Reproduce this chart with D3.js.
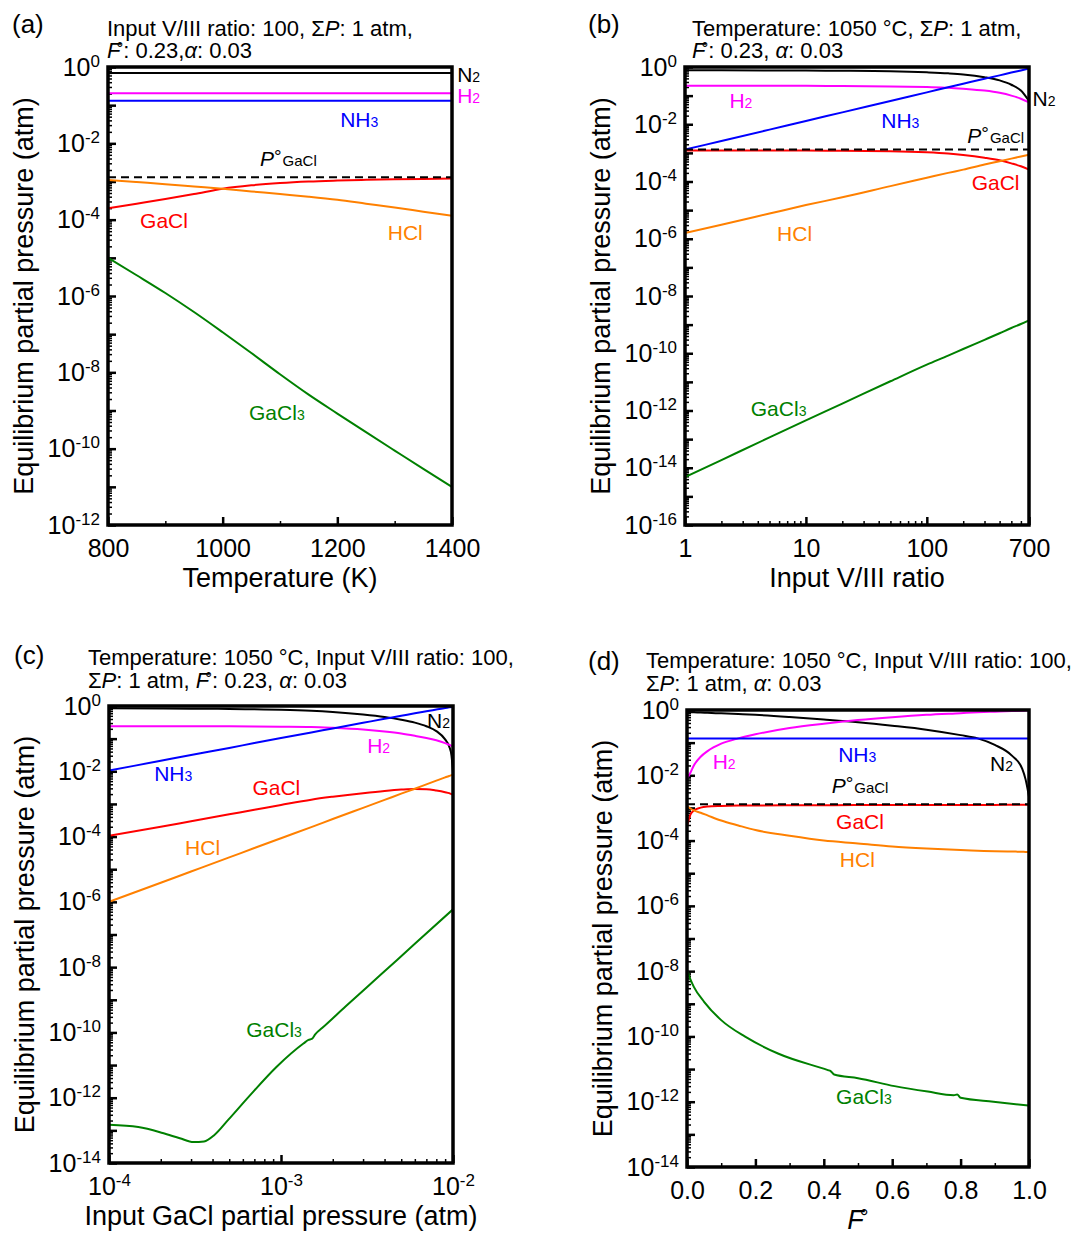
<!DOCTYPE html>
<html>
<head>
<meta charset="utf-8">
<script src="https://cdn.jsdelivr.net/npm/d3@7"></script>
<style>
  body { margin: 0; background: #fff; }
  svg { font-family: 'Liberation Sans', Arial, Helvetica, sans-serif; }
</style>
</head>
<body>
<svg id="fig" width="1083" height="1237"></svg>
<script>
// ---- (a) partial pressures vs temperature
const aTemp = [800, 850, 900, 950, 1000, 1050, 1100, 1150, 1200, 1250, 1300, 1350, 1400];
const aN2 = [0.70, 0.70, 0.70, 0.70, 0.70, 0.70, 0.70, 0.70, 0.70, 0.70, 0.70, 0.70, 0.70];
const aH2 = [0.205, 0.205, 0.205, 0.205, 0.205, 0.205, 0.205, 0.205, 0.205, 0.205, 0.205, 0.205, 0.205];
const aNH3 = [0.13, 0.13, 0.13, 0.13, 0.13, 0.13, 0.13, 0.13, 0.13, 0.13, 0.13, 0.13, 0.13];
const aPGaCl = [1.3e-3, 1.3e-3, 1.3e-3, 1.3e-3, 1.3e-3, 1.3e-3, 1.3e-3, 1.3e-3, 1.3e-3, 1.3e-3, 1.3e-3, 1.3e-3, 1.3e-3];
const aGaCl = [2.0e-4, 2.63e-4, 3.47e-4, 4.68e-4, 6.46e-4, 7.94e-4, 9.12e-4, 1.0e-3, 1.06e-3, 1.11e-3, 1.15e-3, 1.17e-3, 1.19e-3];
const aHCl = [1.10e-3, 9.66e-4, 8.51e-4, 7.41e-4, 6.46e-4, 5.50e-4, 4.68e-4, 3.98e-4, 3.31e-4, 2.63e-4, 2.09e-4, 1.62e-4, 1.26e-4];
const aGaCl3 = [1.0e-5, 3.5e-6, 1.2e-6, 3.8e-7, 1.12e-7, 3.2e-8, 8.9e-9, 2.6e-9, 8.3e-10, 2.7e-10, 8.9e-11, 2.95e-11, 1.0e-11];

// ---- (b) vs input V/III ratio
const bRatio = [1, 2, 5, 10, 20, 50, 100, 150, 200, 300, 400, 500, 600, 700];
const bN2 = [0.77, 0.77, 0.76, 0.75, 0.74, 0.71, 0.65, 0.60, 0.55, 0.44, 0.34, 0.24, 0.15, 0.065];
const bH2 = [0.22, 0.22, 0.22, 0.22, 0.215, 0.21, 0.20, 0.19, 0.175, 0.15, 0.125, 0.10, 0.078, 0.058];
const bNH3 = [1.3e-3, 2.6e-3, 6.5e-3, 1.3e-2, 2.6e-2, 6.5e-2, 0.13, 0.195, 0.26, 0.39, 0.51, 0.64, 0.76, 0.88];
const bPGaCl = [1.3e-3, 1.3e-3, 1.3e-3, 1.3e-3, 1.3e-3, 1.3e-3, 1.3e-3, 1.3e-3, 1.3e-3, 1.3e-3, 1.3e-3, 1.3e-3, 1.3e-3, 1.3e-3];
const bGaCl = [1.2e-3, 1.2e-3, 1.2e-3, 1.2e-3, 1.19e-3, 1.15e-3, 1.05e-3, 9.5e-4, 8.5e-4, 6.8e-4, 5.5e-4, 4.3e-4, 3.4e-4, 2.6e-4];
const bHCl = [1.6e-6, 3.1e-6, 7.6e-6, 1.5e-5, 2.8e-5, 6.9e-5, 1.35e-4, 2.0e-4, 2.6e-4, 3.9e-4, 5.1e-4, 6.3e-4, 7.5e-4, 8.7e-4];
const bGaCl3 = [4.7e-15, 1.86e-14, 1.15e-13, 4.5e-13, 1.74e-12, 1.05e-11, 4.0e-11, 8.3e-11, 1.41e-10, 2.95e-10, 5.0e-10, 7.6e-10, 1.05e-9, 1.41e-9];

// ---- (c) vs input GaCl partial pressure
const cPin = [1e-4, 2e-4, 3e-4, 5e-4, 7e-4, 1e-3, 1.5e-3, 2e-3, 3e-3, 4e-3, 5e-3, 6e-3, 7e-3, 8e-3, 9e-3, 9.5e-3, 9.8e-3, 1e-2];
const cN2 = [0.85, 0.84, 0.83, 0.81, 0.79, 0.77, 0.72, 0.66, 0.55, 0.46, 0.38, 0.31, 0.24, 0.17, 0.095, 0.058, 0.03, 0.009];
const cH2 = [0.24, 0.24, 0.24, 0.238, 0.236, 0.233, 0.228, 0.215, 0.19, 0.165, 0.143, 0.122, 0.105, 0.089, 0.073, 0.065, 0.06, 0.056];
const cNH3 = [0.0105, 0.021, 0.0315, 0.052, 0.073, 0.104, 0.155, 0.205, 0.305, 0.405, 0.50, 0.60, 0.69, 0.78, 0.87, 0.91, 0.935, 0.95];
const cGaCl = [1.05e-4, 2.0e-4, 2.95e-4, 4.8e-4, 6.6e-4, 9.3e-4, 1.35e-3, 1.66e-3, 2.14e-3, 2.5e-3, 2.75e-3, 2.88e-3, 2.82e-3, 2.57e-3, 2.29e-3, 2.14e-3, 2.0e-3, 1.9e-3];
const cHCl = [1.0e-6, 3.86e-6, 8.5e-6, 2.3e-5, 4.45e-5, 8.9e-5, 1.95e-4, 3.45e-4, 7.6e-4, 1.33e-3, 2.06e-3, 2.93e-3, 3.97e-3, 5.16e-3, 6.5e-3, 7.2e-3, 7.6e-3, 7.9e-3];
const cPin3 = [1e-4, 1.48e-4, 2.05e-4, 2.58e-4, 3.1e-4, 3.57e-4, 4.1e-4, 4.93e-4, 6.52e-4, 9.44e-4, 1.35e-3, 1.445e-3, 1.51e-3, 1.585e-3, 1.74e-3, 2.38e-3, 3.78e-3, 6.0e-3, 1e-2];
const cGaCl3 = [1.48e-13, 1.26e-13, 8.3e-14, 5.75e-14, 4.37e-14, 4.57e-14, 7.24e-14, 2.09e-13, 1.1e-12, 8.9e-12, 4.57e-11, 5.9e-11, 6.3e-11, 8.9e-11, 1.38e-10, 6.3e-10, 5.7e-9, 5.2e-8, 5.9e-7];

// ---- (d) vs F°
const dF = [0, 0.01, 0.02, 0.04, 0.06, 0.1, 0.15, 0.2, 0.3, 0.4, 0.5, 0.6, 0.7, 0.8, 0.85, 0.9, 0.95, 0.98, 0.99, 1.0];
const dN2 = [0.87, 0.86, 0.85, 0.84, 0.82, 0.79, 0.75, 0.71, 0.61, 0.51, 0.42, 0.33, 0.25, 0.17, 0.135, 0.085, 0.04, 0.016, 0.0075, 0.0022];
const dH2 = [0.008, 0.012, 0.02, 0.037, 0.055, 0.093, 0.135, 0.18, 0.28, 0.38, 0.49, 0.60, 0.71, 0.80, 0.85, 0.89, 0.93, 0.95, 0.96, 0.97];
const dNH3 = [0.135, 0.135, 0.135, 0.135, 0.135, 0.135, 0.135, 0.135, 0.135, 0.135, 0.135, 0.135, 0.135, 0.135, 0.135, 0.135, 0.135, 0.135, 0.135, 0.135];
const dPGaCl = [1.3e-3, 1.3e-3, 1.3e-3, 1.3e-3, 1.3e-3, 1.3e-3, 1.3e-3, 1.3e-3, 1.3e-3, 1.3e-3, 1.3e-3, 1.3e-3, 1.3e-3, 1.3e-3, 1.3e-3, 1.3e-3, 1.3e-3, 1.3e-3, 1.3e-3, 1.3e-3];
const dGaCl = [2.8e-4, 6.2e-4, 8.3e-4, 1.02e-3, 1.1e-3, 1.15e-3, 1.18e-3, 1.19e-3, 1.2e-3, 1.21e-3, 1.22e-3, 1.22e-3, 1.23e-3, 1.23e-3, 1.24e-3, 1.24e-3, 1.25e-3, 1.25e-3, 1.25e-3, 1.25e-3];
const dHCl = [1.15e-3, 9.6e-4, 8.4e-4, 7.1e-4, 5.9e-4, 4.1e-4, 2.9e-4, 2.1e-4, 1.4e-4, 1.0e-4, 8.2e-5, 6.6e-5, 5.7e-5, 5.1e-5, 4.9e-5, 4.7e-5, 4.6e-5, 4.55e-5, 4.5e-5, 4.5e-5];
const dF3 = [0, 0.01, 0.02, 0.05, 0.10, 0.17, 0.266, 0.412, 0.42, 0.43, 0.50, 0.607, 0.704, 0.78, 0.79, 0.80, 0.896, 1.0];
const dGaCl3 = [1.07e-8, 5.6e-9, 3.3e-9, 1.15e-9, 3.16e-10, 9.8e-11, 3.0e-11, 9.3e-12, 8.7e-12, 6.8e-12, 5.25e-12, 3.0e-12, 2.04e-12, 1.58e-12, 1.66e-12, 1.32e-12, 1.0e-12, 7.6e-13];

// species label anchors, in data units [species, x, y]
const aLabels = [['N2', 1409, 0.40], ['H2', 1409, 0.114], ['NH3', 1205, 0.0274], ['P', 1065, 2.6e-3], ['GaCl', 856, 5.9e-5], ['HCl', 1288, 2.95e-5], ['GaCl3', 1046, 5.6e-10]];
const bLabels = [['H2', 2.33, 0.037], ['NH3', 42, 7.2e-3], ['P', 216, 2.24e-3], ['N2', 749, 0.0447], ['GaCl', 235, 5.1e-5], ['HCl', 5.78, 8.1e-7], ['GaCl3', 3.5, 6.3e-13]];
const cLabels = [['N2', 7.06e-3, 0.215], ['H2', 3.17e-3, 0.0366], ['NH3', 1.83e-4, 4.9e-3], ['GaCl', 6.82e-4, 1.9e-3], ['HCl', 2.77e-4, 2.75e-5], ['GaCl3', 6.28e-4, 7.1e-11]];
const dLabels = [['H2', 0.075, 0.0151], ['NH3', 0.442, 0.0263], ['N2', 0.886, 0.0135], ['P', 0.423, 2.8e-3], ['GaCl', 0.436, 2.34e-4], ['HCl', 0.447, 1.58e-5], ['GaCl3', 0.436, 8.5e-13]];

// tick values
const aTicks = [800, 1000, 1200, 1400], aMinor = [900, 1100, 1300];
const bTicks = [1, 10, 100, 700], bMinor = [2, 3, 4, 5, 6, 7, 8, 9, 20, 30, 40, 50, 60, 70, 80, 90, 200, 300, 400, 500, 600];
const cTicks = [1e-4, 1e-3, 1e-2], cMinor = [2e-4, 3e-4, 4e-4, 5e-4, 6e-4, 7e-4, 8e-4, 9e-4, 2e-3, 3e-3, 4e-3, 5e-3, 6e-3, 7e-3, 8e-3, 9e-3];
const dTicks = [0, 0.2, 0.4, 0.6, 0.8, 1.0], dMinor = [0.1, 0.3, 0.5, 0.7, 0.9];

const FONT = "'Liberation Sans', Arial, Helvetica, sans-serif";
const color = { N2: '#000000', H2: '#ff00ff', NH3: '#0000ff', GaCl: '#ff0000', HCl: '#ff8000', GaCl3: '#008000', P: '#000000' };

// title pieces: [text, style]  style: i = italic, deg = raised degree
const ratioLine = [['Input V/III ratio: 100, Σ'], ['P', 'i'], [': 1 atm,']];
const tempLine = [['Temperature: 1050 °C, Σ'], ['P', 'i'], [': 1 atm,']];
const tempRatioLine = [['Temperature: 1050 °C, Input V/III ratio: 100,']];

const panels = [
  {
    id: 'a', l: 108, r: 452, t: 67, b: 525, xLog: false, xDomain: [800, 1400], yMin: 1e-12,
    ticks: aTicks, minor: aMinor, fmt: 'plain', xTitle: [['Temperature (K)']],
    letter: [12, 33], title: [107, 36, 58],
    lines: [ratioLine, [['F', 'i'], ['°', 'deg'], [': 0.23,'], ['α', 'i'], [': 0.03']]],
    x: aTemp,
    series: [['N2', aN2], ['H2', aH2], ['NH3', aNH3], ['GaCl', aGaCl], ['HCl', aHCl], ['GaCl3', aGaCl3], ['P', aPGaCl]],
    labels: aLabels
  },
  {
    id: 'b', l: 685, r: 1029, t: 67, b: 525, xLog: true, xDomain: [1, 700], yMin: 1e-16,
    ticks: bTicks, minor: bMinor, fmt: 'plain', xTitle: [['Input V/III ratio']],
    letter: [588, 33], title: [692, 36, 58],
    lines: [tempLine, [['F', 'i'], ['°', 'deg'], [': 0.23, '], ['α', 'i'], [': 0.03']]],
    x: bRatio,
    series: [['N2', bN2], ['H2', bH2], ['NH3', bNH3], ['GaCl', bGaCl], ['HCl', bHCl], ['GaCl3', bGaCl3], ['P', bPGaCl]],
    labels: bLabels
  },
  {
    id: 'c', l: 109, r: 453, t: 706, b: 1163, xLog: true, xDomain: [1e-4, 1e-2], yMin: 1e-14,
    ticks: cTicks, minor: cMinor, fmt: 'pow', xTitle: [['Input GaCl partial pressure (atm)']],
    letter: [14, 664], title: [88, 665, 688],
    lines: [tempRatioLine, [['Σ'], ['P', 'i'], [': 1 atm, '], ['F', 'i'], ['°', 'deg'], [': 0.23, '], ['α', 'i'], [': 0.03']]],
    x: cPin,
    series: [['N2', cN2], ['H2', cH2], ['NH3', cNH3], ['GaCl', cGaCl], ['HCl', cHCl], ['GaCl3', cGaCl3, cPin3]],
    labels: cLabels
  },
  {
    id: 'd', l: 687, r: 1029, t: 710, b: 1167, xLog: false, xDomain: [0, 1], yMin: 1e-14,
    ticks: dTicks, minor: dMinor, fmt: 'dec', xTitle: [['F', 'i'], ['°', 'deg']],
    letter: [588, 670], title: [646, 668, 691],
    lines: [tempRatioLine, [['Σ'], ['P', 'i'], [': 1 atm, '], ['α', 'i'], [': 0.03']]],
    x: dF,
    series: [['N2', dN2], ['H2', dH2], ['NH3', dNH3], ['GaCl', dGaCl], ['HCl', dHCl], ['GaCl3', dGaCl3, dF3], ['P', dPGaCl]],
    labels: dLabels
  }
];

const svg = d3.select('#fig');

// writes rich text pieces into a <text>
function rich(text, pieces, degSize) {
  let raised = false;
  pieces.forEach(([s, style]) => {
    const t = text.append('tspan').text(s);
    if (style === 'i') t.attr('font-style', 'italic');
    if (raised) { t.attr('dy', 4); raised = false; }
    if (style === 'deg') {
      t.attr('font-size', degSize).attr('dx', -4).attr('dy', -4);
      raised = true;
    }
  });
}

function speciesLabel(g, name, px, py) {
  const t = g.append('text').attr('x', px).attr('y', py).attr('fill', color[name]).attr('font-size', 21);
  if (name === 'P') {
    t.append('tspan').attr('font-style', 'italic').text('P');
    t.append('tspan').attr('font-size', 19).attr('dy', -3).text('°');
    t.append('tspan').attr('font-size', 15).attr('dy', 3).attr('dx', 1).text('GaCl');
    return;
  }
  name.match(/[A-Za-z]+|\d+/g).forEach((part) => {
    const s = t.append('tspan').text(part);
    if (/\d/.test(part)) s.attr('font-size', 14);
  });
}

function powLabel(sel) {
  sel.each(function (d) {
    const t = d3.select(this).text(null);
    t.append('tspan').text('10');
    t.append('tspan').attr('font-size', 17).attr('dy', -9).text(Math.round(Math.log10(d)));
  });
}

panels.forEach((p) => {
  const g = svg.append('g');
  const x = (p.xLog ? d3.scaleLog() : d3.scaleLinear()).domain(p.xDomain).range([p.l, p.r]);
  const y = d3.scaleLog().domain([p.yMin, 1]).range([p.b, p.t]);

  g.append('clipPath').attr('id', 'clip-' + p.id)
    .append('rect').attr('x', p.l).attr('y', p.t).attr('width', p.r - p.l).attr('height', p.b - p.t);

  // y ticks: minor, every decade, labels every two decades
  const expMin = Math.round(Math.log10(p.yMin));
  const exps = d3.range(expMin, 1);
  const minorY = [];
  exps.slice(0, -1).forEach((e) => { for (let k = 2; k < 10; k++) minorY.push(k * Math.pow(10, e)); });

  g.append('g').attr('transform', `translate(${p.l},0)`)
    .call(d3.axisLeft(y).tickValues(minorY).tickSize(-4).tickFormat(''))
    .call((s) => s.select('.domain').remove())
    .selectAll('line').attr('stroke-width', 1.5);

  const yAx = g.append('g').attr('transform', `translate(${p.l},0)`)
    .call(d3.axisLeft(y).tickValues(exps.map((e) => Math.pow(10, e))).tickSize(-8).tickPadding(8).tickFormat(() => ''))
    .attr('font-size', 25).attr('font-family', FONT);
  yAx.select('.domain').remove();
  yAx.selectAll('line').attr('stroke-width', 2.5);
  yAx.selectAll('.tick text').filter((d) => Math.round(Math.log10(d)) % 2 === 0).call(powLabel);

  // x ticks
  g.append('g').attr('transform', `translate(0,${p.b})`)
    .call(d3.axisBottom(x).tickValues(p.minor).tickSize(-4).tickFormat(''))
    .call((s) => s.select('.domain').remove())
    .selectAll('line').attr('stroke-width', 1.5);

  const fmt = p.fmt === 'dec' ? d3.format('.1f') : (d) => String(d);
  const xAx = g.append('g').attr('transform', `translate(0,${p.b})`)
    .call(d3.axisBottom(x).tickValues(p.ticks).tickSize(-8).tickFormat(fmt))
    .attr('font-size', 25).attr('font-family', FONT);
  xAx.select('.domain').remove();
  xAx.selectAll('line').attr('stroke-width', 2.5);
  xAx.selectAll('.tick text').attr('y', 32).attr('dy', null);
  if (p.fmt === 'pow') xAx.selectAll('.tick text').call(powLabel);

  // curves
  const line = d3.line().x((d) => x(d[0])).y((d) => y(d[1])).curve(d3.curveMonotoneX);
  const curves = g.append('g').attr('clip-path', `url(#clip-${p.id})`);
  p.series.forEach(([key, vals, xs]) => {
    curves.append('path')
      .datum(d3.zip(xs || p.x, vals))
      .attr('d', line)
      .attr('fill', 'none')
      .attr('stroke', color[key])
      .attr('stroke-width', 2)
      .attr('stroke-dasharray', key === 'P' ? '8,5' : null);
  });

  // frame
  g.append('rect')
    .attr('x', p.l).attr('y', p.t).attr('width', p.r - p.l).attr('height', p.b - p.t)
    .attr('fill', 'none').attr('stroke', '#000').attr('stroke-width', 3.5);

  // species labels
  p.labels.forEach(([name, lx, ly]) => speciesLabel(g, name, x(lx), y(ly)));

  // axis titles
  const xt = g.append('text').attr('x', (p.l + p.r) / 2).attr('y', p.b + 62)
    .attr('text-anchor', 'middle').attr('font-size', 27);
  rich(xt, p.xTitle, 22);

  g.append('text')
    .attr('transform', `translate(${p.l - 75},${(p.t + p.b) / 2}) rotate(-90)`)
    .attr('text-anchor', 'middle').attr('font-size', 27)
    .text('Equilibrium partial pressure (atm)');

  // panel letter and condition lines
  g.append('text').attr('x', p.letter[0]).attr('y', p.letter[1]).attr('font-size', 26).text(`(${p.id})`);
  p.lines.forEach((pieces, i) => {
    const t = g.append('text').attr('x', p.title[0]).attr('y', p.title[i + 1]).attr('font-size', 22);
    rich(t, pieces, 17);
  });
});
</script>
</body>
</html>
